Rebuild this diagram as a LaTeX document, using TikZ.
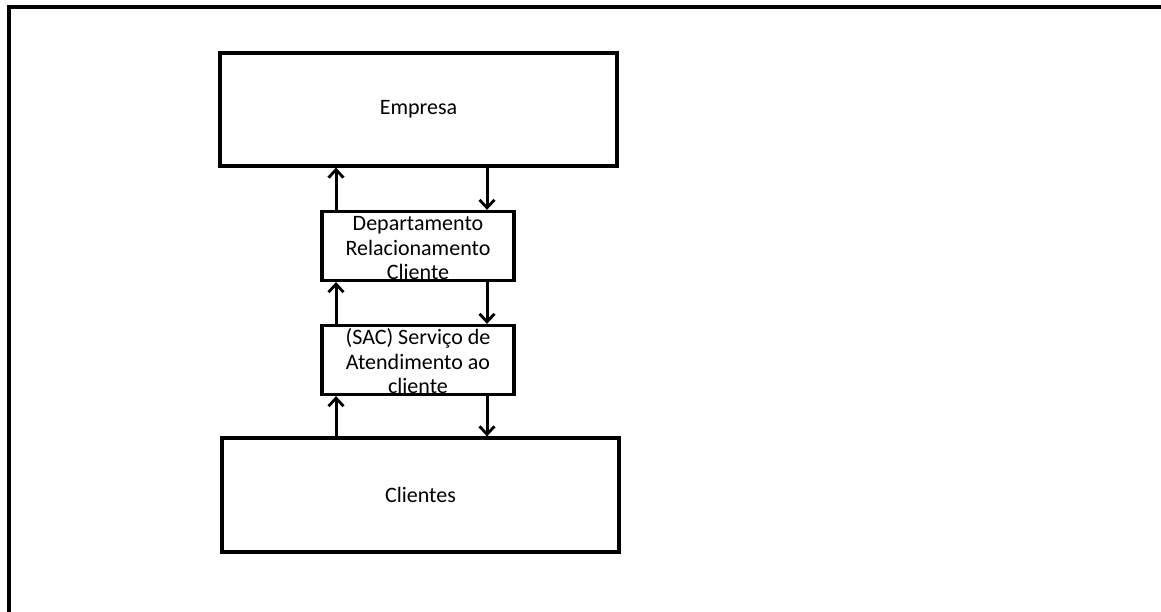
\documentclass[tikz,border=0pt]{standalone}
\usepackage{fontspec}
\setmainfont{Carlito}
\usetikzlibrary{arrows.meta}
\newcommand{\topstrut}{\rule{0pt}{18.5pt}}
\begin{document}
\begin{tikzpicture}[x=1pt,y=-1pt,
  box/.style={draw=black,line width=3.3pt,fill=white,inner sep=0pt,
    align=center,font=\fontsize{22}{24.5}\selectfont},
  flow/.style={line width=3pt,-{Straight Barb[length=8pt,width=15pt,line width=2.8pt]}},
  frameline/.style={line width=4.5pt}]
  \useasboundingbox (0,0) rectangle (1161,612);
  % page frame, running off the right and bottom edges
  \draw[frameline] (9,614) -- (9,7) -- (1163,7);
  % blocks
  \node[box,minimum width=397pt,minimum height=113pt] (emp) at (418.5,109.5) {Empresa};
  \node[box,minimum width=192pt,minimum height=69pt] (dept) at (418,246)
    {\topstrut Departamento\\Relacionamento\\Cliente};
  \node[box,minimum width=192pt,minimum height=69pt] (sac) at (418,360)
    {\topstrut(SAC) Serviço de\\Atendimento ao\\cliente};
  \node[box,minimum width=397pt,minimum height=114pt] (cli) at (420.5,495) {Clientes};
  % columns of the upward and downward connectors
  \coordinate (up) at (336,0);
  \coordinate (down) at (487,0);
  % upward flow
  \draw[flow] (cli.north -| up) -- (sac.south -| up);
  \draw[flow] (sac.north -| up) -- (dept.south -| up);
  \draw[flow] (dept.north -| up) -- (emp.south -| up);
  % downward flow
  \draw[flow] (emp.south -| down) -- (dept.north -| down);
  \draw[flow] (dept.south -| down) -- (sac.north -| down);
  \draw[flow] (sac.south -| down) -- (cli.north -| down);
\end{tikzpicture}
\end{document}
